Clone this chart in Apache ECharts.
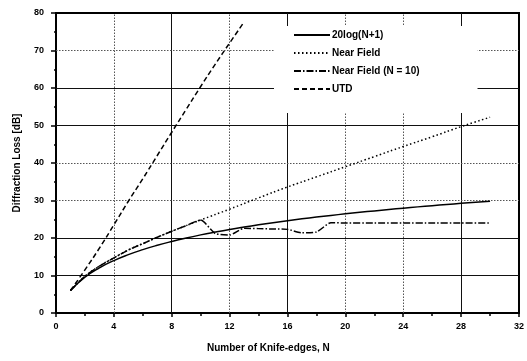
<!DOCTYPE html>
<html><head><meta charset="utf-8">
<script src="https://cdn.jsdelivr.net/npm/echarts@6/dist/echarts.min.js"></script>
<style>html,body{margin:0;padding:0;background:#fff}#c{width:527px;height:361px}</style>
</head><body><div id="c"></div>
<script>
// Data
const logN    = [1,2,3,4,5,6,7,8,9,10,11,12,13,14,15,16,17,18,19,20,21,22,23,24,25,26,27,28,29,30];
const logLoss = [6.02,9.54,12.04,13.98,15.56,16.90,18.06,19.08,20.00,20.83,21.58,22.28,22.92,23.52,24.08,24.61,25.11,25.58,26.02,26.44,26.85,27.23,27.60,27.96,28.30,28.63,28.94,29.25,29.54,29.83];
const nearN    = [1,2,3,4,5,6,7,8,9,10,12,14,16,18,20,22,24,26,28,30];
const nearLoss = [6.0,9.8,12.5,14.7,16.8,18.5,20.2,21.8,23.3,24.8,27.7,30.7,33.6,36.3,39.0,41.7,44.4,47.0,49.7,52.2];
const near10N    = [1,2,3,4,5,6,7,8,9,10,11,12,13,14,15,16,17,18,19,20,22,24,26,28,30];
const near10Loss = [6.0,9.8,12.5,14.7,16.8,18.5,20.2,21.8,23.3,24.8,21.2,20.8,22.6,22.5,22.4,22.3,21.4,21.6,24.1,24.0,24.0,24.0,24.0,24.0,24.0];
const utdN    = [1,2,3,4,5,6,7,8,9,10,11,12,13];
const utdLoss = [6.0,11.5,17.3,23.5,29.8,35.8,42.0,48.2,54.3,60.4,66.3,72.0,77.6];
const seriesNames = ['20log(N+1)','Near Field','Near Field (N = 10)','UTD'];
const xGridSolid  = [8, 16, 28];
const xGridDotted = [4, 12, 20, 24];
const yGridSolid  = [10, 20, 50, 60];
const yGridDotted = [30, 40, 70];
const xLabel = 'Number of Knife-edges, N';
const yLabel = 'Diffraction Loss [dB]';

const pair = (xs, ys) => xs.map((x, i) => [x, ys[i]]);
const font = '"Liberation Sans", Arial, sans-serif';
const chart = echarts.init(document.getElementById('c'), null, {renderer: 'canvas'});
const lineS = (name, data, type, smooth) => ({
  name, type: 'line', data, symbol: 'none', showSymbol: false, smooth: smooth || false,
  lineStyle: {color: '#000', width: 1.5, type}, itemStyle: {color: '#000'}, z: 5
});
const solidGL = {color: '#111', width: 1, type: 'solid'};
const dotGL = {color: '#555', width: 1, type: [1.5, 1.5]};
const gridData = [
  ...xGridSolid.map(v => ({xAxis: v, lineStyle: solidGL})),
  ...xGridDotted.map(v => ({xAxis: v, lineStyle: dotGL})),
  ...yGridSolid.map(v => ({yAxis: v, lineStyle: solidGL})),
  ...yGridDotted.map(v => ({yAxis: v, lineStyle: dotGL}))
];
chart.setOption({
  animation: false,
  backgroundColor: '#fff',
  textStyle: {fontFamily: font},
  grid: {left: 56, right: 4, top: 13, bottom: 48, show: true, borderColor: '#000', borderWidth: 2, backgroundColor: 'transparent'},
  xAxis: {
    type: 'value', min: 0, max: 32, interval: 4,
    axisLine: {show: true, lineStyle: {color: '#000', width: 2}},
    axisTick: {show: true, length: 4, lineStyle: {color: '#000', width: 1.5}},
    minorTick: {show: true, splitNumber: 2, length: 3, lineStyle: {color: '#000', width: 1.5}},
    axisLabel: {color: '#000', fontWeight: 'bold', fontSize: 9, margin: 9, fontFamily: font},
    splitLine: {show: false}
  },
  yAxis: {
    type: 'value', min: 0, max: 80, interval: 10,
    name: yLabel, nameLocation: 'middle', nameGap: 34,
    nameTextStyle: {color: '#000', fontWeight: 'bold', fontSize: 10, fontFamily: font},
    axisLine: {show: true, lineStyle: {color: '#000', width: 2}},
    axisTick: {show: true, length: 5, lineStyle: {color: '#000', width: 1.5}},
    minorTick: {show: true, splitNumber: 2, length: 2, lineStyle: {color: '#000', width: 1.5}},
    axisLabel: {color: '#000', fontWeight: 'bold', fontSize: 9, margin: 12, fontFamily: font},
    splitLine: {show: false}
  },
  legend: {
    orient: 'vertical', left: 274, top: 26,
    padding: [4, 58, 19, 19],
    backgroundColor: '#fff',
    itemWidth: 36, itemHeight: 4, itemGap: 8,
    itemStyle: {opacity: 0},
    data: seriesNames,
    textStyle: {color: '#000', fontWeight: 'bold', fontSize: 10, fontFamily: font, padding: [0,0,0,-3]},
    z: 10
  },
  graphic: [{
    type: 'text', left: 207, top: 343,
    style: {text: xLabel, font: 'bold 10px ' + font, fill: '#000'}
  }],
  series: [
    {
      name: 'grid', type: 'line', data: [], silent: true, z: 1,
      markLine: {silent: true, symbol: ['none', 'none'], label: {show: false}, animation: false, data: gridData}
    },
    lineS(seriesNames[0], pair(logN, logLoss), 'solid', true),
    lineS(seriesNames[1], pair(nearN, nearLoss), [1.5, 2.5], true),
    lineS(seriesNames[2], pair(near10N, near10Loss), [7, 2, 1.5, 2], 0.2),
    lineS(seriesNames[3], pair(utdN, utdLoss), [5, 3], true)
  ]
});
</script></body></html>
